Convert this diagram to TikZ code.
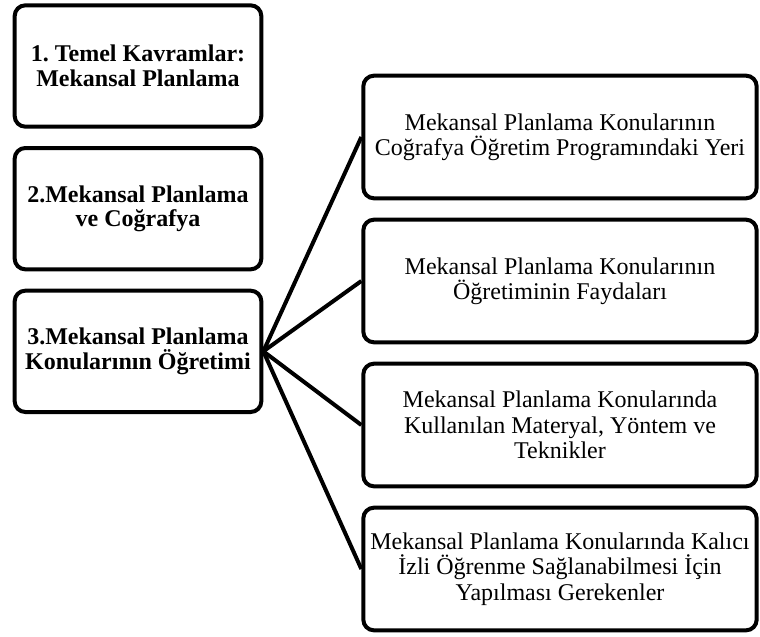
\documentclass[tikz,border=0pt]{standalone}
\usepackage{fontspec}
\setmainfont{Liberation Serif}
\usetikzlibrary{positioning}
\frenchspacing

\tikzset{
	box/.style={draw, line width=3pt, rounded corners=8pt, align=center,
		inner sep=2pt, font=\fontsize{18}{19}\selectfont},
	mainbox/.style={box, font=\bfseries\fontsize{18}{18.5}\selectfont,
		minimum width=185pt, minimum height=91pt},
	subbox/.style={box, minimum width=295pt, minimum height=92pt},
	link/.style={line width=3pt}
}

\begin{document}
\begin{tikzpicture}[x=0.75pt, y=-0.75pt, node distance=13pt]

\useasboundingbox (0,0) rectangle (760,636);

% MAIN TOPICS
\node [mainbox] (t1) at (138,66) {1. Temel Kavramlar:\\Mekansal Planlama};
\node [mainbox, below=of t1] (t2) {2.Mekansal Planlama\\ve Coğrafya};
\node [mainbox, below=of t2] (t3) {3.Mekansal Planlama\\Konularının Öğretimi};

% SUB TOPICS
\node [subbox] (s1) at (560,137) {Mekansal Planlama Konularının\\Coğrafya Öğretim Programındaki Yeri};
\node [subbox, below=of s1] (s2) {Mekansal Planlama Konularının\\Öğretiminin Faydaları};
\node [subbox, below=of s2] (s3) {Mekansal Planlama Konularında\\Kullanılan Materyal, Yöntem ve\\Teknikler};
\node [subbox, below=of s3] (s4) {Mekansal Planlama Konularında Kalıcı\\İzli Öğrenme Sağlanabilmesi İçin\\Yapılması Gerekenler};

% LINKS
\foreach \s in {s1,s2,s3,s4}
	\draw [link] (t3.east) -- (\s.west);

\end{tikzpicture}
\end{document}
